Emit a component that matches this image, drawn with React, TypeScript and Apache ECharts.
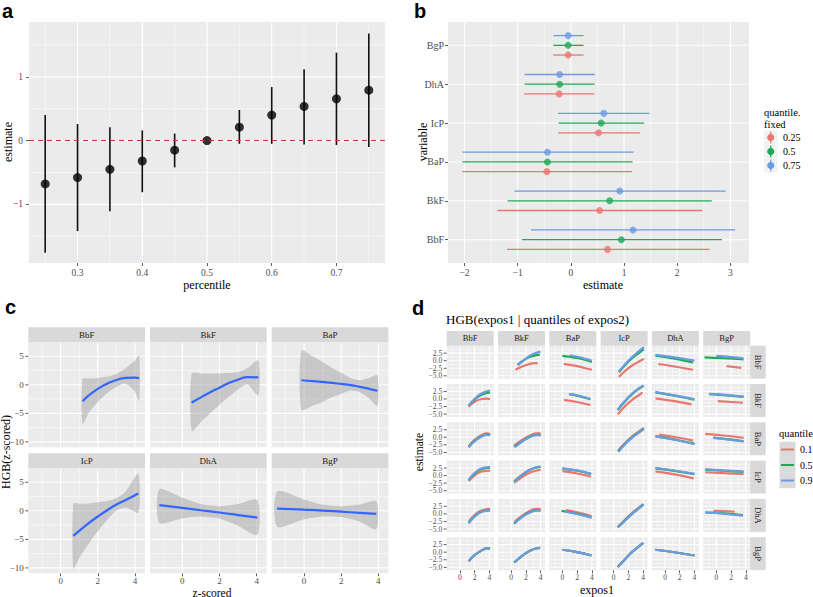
import React, { useEffect, useRef } from 'react';
import * as echarts from 'echarts';

const SERIF = 'Liberation Serif';
const SANS = 'Liberation Sans';

// ---------------- Panel a ----------------
const aPercentile = [0.25, 0.3, 0.35, 0.4, 0.45, 0.5, 0.55, 0.6, 0.65, 0.7, 0.75];
const aEstimate = [-0.68, -0.58, -0.45, -0.32, -0.15, 0.0, 0.21, 0.4, 0.535, 0.655, 0.79];
const aLower = [-1.76, -1.42, -1.11, -0.81, -0.42, 0.0, -0.05, -0.05, -0.06, -0.07, -0.1];
const aUpper = [0.4, 0.26, 0.21, 0.16, 0.11, 0.0, 0.48, 0.84, 1.12, 1.38, 1.68];
const aXTicks = [0.3, 0.4, 0.5, 0.6, 0.7];
const aXMinor = [0.25, 0.35, 0.45, 0.55, 0.65, 0.75];
const aYTicks = [-1, 0, 1];
const aYMinor = [-1.5, -0.5, 0.5, 1.5];

// ---------------- Panel b ----------------
const bVariables = ['BbF', 'BkF', 'BaP', 'IcP', 'DhA', 'BgP'];
const bQuantiles = ['0.25', '0.5', '0.75'];
const bEst25 = [0.69, 0.54, -0.45, 0.52, -0.22, -0.05];
const bLow25 = [-1.2, -1.38, -2.04, -0.24, -0.88, -0.33];
const bHigh25 = [2.61, 2.47, 1.15, 1.3, 0.44, 0.24];
const bEst50 = [0.95, 0.73, -0.44, 0.57, -0.21, -0.05];
const bLow50 = [-0.92, -1.19, -2.04, -0.23, -0.87, -0.33];
const bHigh50 = [2.84, 2.65, 1.16, 1.38, 0.45, 0.24];
const bEst75 = [1.17, 0.92, -0.44, 0.62, -0.21, -0.05];
const bLow75 = [-0.75, -1.06, -2.04, -0.24, -0.87, -0.33];
const bHigh75 = [3.09, 2.91, 1.18, 1.48, 0.45, 0.24];
const bDodge = [-0.25, 0, 0.25];
const bXTicks = [-2, -1, 0, 1, 2, 3];
const bXMinor = [-1.5, -0.5, 0.5, 1.5, 2.5];
const bYTicks = [1, 2, 3, 4, 5, 6];

// ---------------- Panel c ----------------
const cFacets = ['BbF', 'BkF', 'BaP', 'IcP', 'DhA', 'BgP'];
const cBbFx = [1.18, 1.5, 2.0, 2.5, 3.0, 3.5, 4.0, 4.23];
const cBbFfit = [-2.9, -1.9, -0.7, 0.2, 0.85, 1.2, 1.25, 1.15];
const cBbFlo = [-6.9, -5.0, -3.0, -1.5, -0.4, 0.2, -1.2, -2.9];
const cBbFhi = [1.05, 1.1, 1.2, 1.4, 1.9, 2.9, 4.3, 5.2];
const cBkFx = [0.5, 1.0, 1.5, 2.0, 2.5, 3.0, 3.5, 4.09];
const cBkFfit = [-3.1, -2.2, -1.3, -0.5, 0.3, 0.9, 1.35, 1.3];
const cBkFlo = [-8.1, -6.5, -5.0, -3.5, -2.1, -0.8, 0.1, -1.9];
const cBkFhi = [1.95, 2.0, 2.0, 2.0, 2.05, 2.2, 2.9, 4.3];
const cBaPx = [-0.14, 0.5, 1.0, 1.5, 2.0, 2.5, 3.0, 3.5, 3.95];
const cBaPfit = [0.8, 0.65, 0.5, 0.35, 0.15, -0.05, -0.35, -0.7, -1.05];
const cBaPlo = [-4.4, -3.6, -3.0, -2.2, -1.6, -1.0, -1.3, -2.4, -3.7];
const cBaPhi = [6.0, 4.9, 4.0, 3.0, 2.1, 1.2, 0.8, 1.2, 1.65];
const cIcPx = [0.68, 1.0, 1.5, 2.0, 2.5, 3.0, 3.5, 4.18];
const cIcPfit = [-4.4, -3.5, -2.2, -1.0, 0.1, 1.1, 1.9, 3.05];
const cIcPlo = [-10.1, -8.3, -5.8, -3.6, -1.6, 0.0, 0.6, -0.3];
const cIcPhi = [1.2, 1.25, 1.3, 1.5, 1.7, 2.2, 3.4, 6.5];
const cDhAx = [-1.24, 0, 1, 2, 3, 4.04];
const cDhAfit = [1.0, 0.5, 0.1, -0.3, -0.75, -1.2];
const cDhAlo = [-2.1, -1.3, -1.0, -1.4, -2.6, -4.2];
const cDhAhi = [3.8, 2.3, 1.2, 0.8, 1.2, 1.9];
const cBgPx = [-1.45, 0, 1, 2, 3, 3.89];
const cBgPfit = [0.4, 0.2, 0.05, -0.15, -0.35, -0.55];
const cBgPlo = [-2.8, -1.5, -1.0, -1.1, -1.9, -3.2];
const cBgPhi = [3.4, 2.0, 1.1, 0.8, 1.1, 1.65];
const cXTicks = [0, 2, 4];
const cXMinor = [-1, 1, 3];
const cYTicks = [-10, -5, 0, 5];
const cYMinor = [-7.5, -2.5, 2.5];

// ---------------- Panel d ----------------
const dExposures = ['BbF', 'BkF', 'BaP', 'IcP', 'DhA', 'BgP'];
const dQuantiles = ['0.1', '0.5', '0.9'];
const dXTicks = [0, 2, 4];
const dXMinor = [-1, 1, 3];
const dYTicks = [-5, -2.5, 0, 2.5];
const dYMinor = [-3.75, -1.25, 1.25, 3.75];
// rows: expos2 fixed at quantiles; columns: expos1; each cell = [q0.1, q0.5, q0.9] lines of [expos1, estimate]
const dRowBbF = [
  null,
  [[[0.6, -3.0], [1.5, -1.9], [2.5, -1.1], [3.2, -0.8], [3.6, -0.9]],
   [[0.9, -1.3], [2, 0.6], [3, 1.6], [3.9, 2.0]],
   [[0.9, -1.6], [2, 0.7], [3, 2.2], [4.0, 3.0]]],
  [[[0.2, -1.1], [1, -1.4], [2, -1.8], [3, -2.4], [4, -3.0]],
   [[0, 1.6], [1, 1.3], [2, 0.9], [3, 0.3], [4, -0.4]],
   [[1, 1.8], [2, 1.3], [3, 0.7], [4, 0.0]]],
  [[[0.7, -5.4], [1.5, -3.5], [2.5, -1.6], [3.5, -0.2], [4.1, 0.6]],
   [[0.7, -3.8], [1.5, -1.6], [2.5, 0.8], [3.5, 2.7], [4.1, 3.8]],
   [[0.7, -3.6], [1.5, -1.3], [2.5, 1.2], [3.5, 3.3], [4.1, 4.5]]],
  [[[-0.9, -1.1], [1.5, -2.0], [3.8, -3.0]],
   [[-1.3, 1.7], [1.5, 0.6], [3.8, -0.6]],
   [[-1.3, 1.9], [1.5, 1.0], [4.0, 0.0]]],
  [[[1.4, -1.8], [3.4, -2.4]],
   [[-1.6, 1.1], [1, 0.8], [3.7, 0.4]],
   [[0, 1.6], [2, 1.2], [3.7, 0.8]]],
];
const dRowBkF = [
  [[[1.2, -2.6], [2, -0.9], [3, 0.0], [3.6, 0.1], [4.1, -0.1]],
   [[1.2, -2.3], [2, -0.2], [3, 1.5], [4.1, 2.2]],
   [[1.2, -2.2], [2, 0.0], [3, 1.9], [4.1, 2.8]]],
  null,
  [[[0.2, -0.3], [2, -1.0], [3.8, -2.0]],
   [[0.9, 1.6], [2.5, 0.8], [3.8, -0.1]],
   [[0.9, 1.7], [2.5, 0.9], [3.8, 0.0]]],
  [[[0.55, -5.1], [1.5, -2.5], [2.5, -0.3], [3.5, 1.4], [3.9, 2.2]],
   [[0.55, -3.7], [1.5, -0.9], [2.5, 1.6], [3.5, 3.5], [4.05, 4.3]],
   [[0.55, -3.5], [1.5, -0.7], [2.5, 1.8], [3.5, 3.7], [4.05, 4.5]]],
  [[[-1.3, 0.2], [1.5, -0.8], [3.6, -1.8]],
   [[-1.3, 2.2], [1.5, 1.0], [4.0, -0.2]],
   [[-1.3, 2.3], [1.5, 1.1], [4.0, -0.1]]],
  [[[0.2, -0.7], [3.6, -1.25]],
   [[-1.0, 1.6], [1.5, 1.2], [3.7, 0.7]],
   [[-1.0, 1.7], [1.5, 1.3], [3.7, 0.8]]],
];
const dRowBaP = [
  [[[1.2, -3.0], [2, -0.8], [3, 0.8], [3.7, 1.3], [4.1, 1.0]],
   [[1.2, -3.2], [2, -1.2], [3, 0.4], [3.7, 0.9], [4.1, 0.8]],
   [[1.2, -3.3], [2, -1.3], [3, 0.3], [3.7, 0.8], [4.1, 0.7]]],
  [[[0.4, -2.8], [1.5, -0.9], [2.5, 0.5], [3.5, 1.3], [4.0, 1.3]],
   [[0.4, -3.1], [1.5, -1.3], [2.5, 0.1], [3.5, 0.8], [4.0, 0.8]],
   [[0.5, -3.3], [1.5, -1.4], [2.5, 0.0], [3.5, 0.7], [4.0, 0.6]]],
  null,
  [[[0.6, -4.4], [1.5, -2.0], [2.5, 0.3], [3.5, 2.1], [4.1, 3.1]],
   [[0.6, -4.6], [1.5, -2.3], [2.5, 0.0], [3.5, 1.8], [4.1, 2.8]],
   [[0.65, -4.8], [1.5, -2.4], [2.5, -0.1], [3.5, 1.7], [4.1, 2.7]]],
  [[[-0.8, 0.9], [1.5, 0.0], [3.8, -1.1]],
   [[-1.3, 0.4], [1.5, -0.8], [4.0, -2.1]],
   [[-1.3, 0.3], [1.5, -0.9], [4.0, -2.3]]],
  [[[-1.5, 1.1], [1, 0.6], [3.7, -0.2]],
   [[-0.4, -0.1], [1.5, -0.6], [3.7, -1.3]],
   [[-0.4, -0.2], [1.5, -0.7], [3.7, -1.4]]],
];
const dRowIcP = [
  [[[1.2, -1.8], [2, 0.0], [3, 1.4], [4.1, 1.6]],
   [[1.2, -1.6], [2, 0.6], [3, 2.2], [4.1, 2.5]],
   [[1.2, -1.5], [2, 0.8], [3, 2.4], [4.1, 2.8]]],
  [[[0.4, -2.4], [1.5, -0.5], [2.5, 0.9], [3.5, 1.7], [4, 1.9]],
   [[0.4, -1.9], [1.5, 0.2], [2.5, 1.8], [3.5, 2.7], [4, 2.9]],
   [[0.5, -2.0], [1.5, 0.3], [2.5, 1.9], [3.5, 2.8], [4, 3.0]]],
  [[[0, 1.5], [2, 0.7], [3.9, -0.4]],
   [[0, 2.3], [2, 1.6], [3.9, 0.5]],
   [[0, 2.4], [2, 1.7], [3.9, 0.6]]],
  null,
  [[[-1.3, 1.4], [1.5, 0.3], [3.9, -0.9]],
   [[-1.3, 2.4], [1.5, 1.5], [4.0, 0.5]],
   [[-1.3, 2.5], [1.5, 1.6], [4.0, 0.6]]],
  [[[-1.5, 1.1], [1, 0.8], [3.7, 0.5]],
   [[-1.5, 2.0], [1, 1.6], [3.7, 1.2]],
   [[-1.5, 2.1], [1, 1.7], [3.7, 1.3]]],
];
const dRowDhA = [
  [[[1.2, -2.7], [2, -0.4], [3, 1.2], [4.1, 1.7]],
   [[1.2, -3.0], [2, -0.8], [3, 0.8], [4.1, 1.2]],
   [[1.2, -3.1], [2, -0.9], [3, 0.7], [4.1, 1.1]]],
  [[[0.45, -2.6], [1.5, -0.6], [2.5, 0.9], [3.5, 1.7], [4, 1.7]],
   [[0.4, -3.2], [1.5, -1.0], [2.5, 0.5], [3.5, 1.2], [4, 1.2]],
   [[0.5, -3.0], [1.5, -1.0], [2.5, 0.4], [3.5, 1.1], [4, 1.1]]],
  [[[0.5, 1.25], [2, 0.5], [3.95, -0.7]],
   [[-0.1, 1.0], [2, 0.1], [3.95, -1.2]],
   [[0.3, 0.7], [2, 0.0], [3.95, -1.25]]],
  [[[0.6, -4.2], [1.5, -2.0], [2.5, 0.3], [3.5, 2.2], [4, 3.2]],
   [[0.55, -4.4], [1.5, -2.2], [2.5, 0.1], [3.5, 2.1], [4.05, 3.1]],
   [[0.55, -4.5], [1.5, -2.3], [2.5, 0.0], [3.5, 2.0], [4.05, 3.1]]],
  null,
  [[[-0.4, 1.0], [1, 0.9], [2.5, 0.7]],
   [[-1.5, 0.45], [1, 0.2], [3.6, -0.4]],
   [[-1.5, 0.4], [1, 0.1], [3.6, -0.6]]],
];
const dRowBgP = [
  [[[1.2, -3.0], [2, -1.0], [3, 0.6], [3.7, 1.3], [4.1, 1.2]],
   [[1.2, -3.0], [2, -1.0], [3, 0.6], [3.7, 1.3], [4.1, 1.2]],
   [[1.2, -3.0], [2, -1.0], [3, 0.6], [3.7, 1.3], [4.0, 1.2]]],
  [[[0.45, -3.4], [1.5, -1.2], [2.5, 0.4], [3.5, 1.3], [3.95, 1.4]],
   [[0.4, -3.4], [1.5, -1.2], [2.5, 0.4], [3.5, 1.3], [3.95, 1.4]],
   [[0.5, -3.3], [1.5, -1.2], [2.5, 0.4], [3.5, 1.3], [3.9, 1.4]]],
  [[[0, 0.8], [2, 0.0], [3.95, -1.1]],
   [[0, 0.8], [2, 0.0], [3.95, -1.1]],
   [[0, 0.8], [2, 0.0], [3.95, -1.1]]],
  [[[0.55, -4.9], [1.5, -2.4], [2.5, 0.1], [3.5, 2.1], [4.0, 3.1]],
   [[0.55, -4.9], [1.5, -2.4], [2.5, 0.1], [3.5, 2.1], [4.0, 3.1]],
   [[0.55, -4.9], [1.5, -2.4], [2.5, 0.1], [3.5, 2.1], [4.0, 3.1]]],
  [[[-1.3, 0.8], [1.5, -0.1], [4.0, -1.1]],
   [[-1.3, 0.8], [1.5, -0.1], [4.0, -1.1]],
   [[-1.3, 0.8], [1.5, -0.1], [4.0, -1.1]]],
  null,
];

const Q_COLORS = ['#E9776F', '#1DAA57', '#6B9BE0'];
const PANEL_BG = '#EBEBEB';
const STRIP_BG = '#D9D9D9';

const minusFmt = (v: number, digits?: number) => {
  const s = digits === undefined ? String(Math.abs(v)) : Math.abs(v).toFixed(digits);
  return v < 0 ? '\u2212' + s : s;
};

function makeGrid(left: number, top: number, width: number, height: number) {
  return {
    left, top, width, height, show: true, backgroundColor: PANEL_BG, borderWidth: 0,
    containLabel: false, outerBoundsMode: 'none',
  };
}

function makeAxis(dim: 'x' | 'y', gi: number, min: number, max: number, ticks: number[], showTicks: boolean, showLabels: boolean, fontSize: number, margin: number, fmt: (v: number) => string) {
  return {
    type: 'value', gridIndex: gi, min, max,
    position: dim === 'x' ? 'bottom' : 'left',
    offset: 0,
    axisLine: { show: false, onZero: false },
    splitLine: { show: false },
    minorSplitLine: { show: false },
    axisTick: { show: showTicks, length: 3, interval: 0, customValues: ticks, lineStyle: { color: '#333333', width: 0.8 } },
    axisLabel: {
      show: showLabels, customValues: ticks, fontFamily: SERIF, fontSize, color: '#4D4D4D', margin, interval: 0,
      hideOverlap: false, showMinLabel: true, showMaxLabel: true,
      formatter: (v: number) => fmt(v),
    },
  };
}

function gridLines(gi: number, xMajor: number[], xMinor: number[], yMajor: number[], yMinor: number[], xMid: number, yMid: number) {
  const data: number[][] = [];
  xMinor.forEach((v) => data.push([v, yMid, 1]));
  yMinor.forEach((v) => data.push([xMid, v, 3]));
  xMajor.forEach((v) => data.push([v, yMid, 0]));
  yMajor.forEach((v) => data.push([xMid, v, 2]));
  return {
    type: 'custom', xAxisIndex: gi, yAxisIndex: gi, silent: true, z: 1, clip: false,
    encode: { x: 0, y: 1 },
    data,
    renderItem: (params: any, api: any) => {
      const cs = params.coordSys;
      const kind = api.value(2);
      const p = api.coord([api.value(0), api.value(1)]);
      const style = { stroke: '#FFFFFF', lineWidth: kind % 2 === 0 ? 1.1 : 0.5, fill: null };
      if (kind < 2) return { type: 'line', shape: { x1: p[0], y1: cs.y, x2: p[0], y2: cs.y + cs.height }, style };
      return { type: 'line', shape: { x1: cs.x, y1: p[1], x2: cs.x + cs.width, y2: p[1] }, style };
    },
  };
}

function txt(x: number, y: number, text: string, size: number, o: any = {}) {
  return {
    type: 'text', x, y, rotation: o.rot || 0, z: 100, silent: true,
    style: {
      text, fontSize: size, fontFamily: o.family || SERIF, fontWeight: o.weight || 'normal',
      fill: o.color || '#000000', align: o.align || 'center', verticalAlign: o.va || 'middle',
    },
  };
}

function rect(x: number, y: number, w: number, h: number, fill: string) {
  return { type: 'rect', shape: { x, y, width: w, height: h }, style: { fill }, z: 50, silent: true };
}

// facet y-axis labels: the vertical position comes from the axis scale (convertToPixel), the edge from the panel layout
type YLabelSpec = { gi: number; edge: number; xAt: number; ticks: number[]; fmt: (v: number) => string; size: number };

function buildOption() {
  const grids: any[] = [];
  const xAxes: any[] = [];
  const yAxes: any[] = [];
  const series: any[] = [];
  const g: any[] = [];
  const ySpecs: YLabelSpec[] = [];

  // ----- Panel a (grid 0)
  grids.push(makeGrid(29, 22, 356, 241));
  xAxes.push(makeAxis('x', 0, 0.225, 0.775, aXTicks, true, true, 9.5, 5, (v) => v.toFixed(1)));
  yAxes.push(makeAxis('y', 0, -1.92, 1.86, aYTicks, true, true, 9.5, 6, (v) => minusFmt(v)));
  series.push(gridLines(0, aXTicks, aXMinor, aYTicks, aYMinor, 0.5, 0));
  series.push({
    type: 'line', xAxisIndex: 0, yAxisIndex: 0, data: [], z: 2, silent: true,
    markLine: {
      silent: true, symbol: 'none', animation: false,
      label: { show: false },
      lineStyle: { color: '#C0392B', type: [5, 4], width: 1 },
      data: [{ yAxis: 0 }],
    },
  });
  series.push({
    type: 'custom', xAxisIndex: 0, yAxisIndex: 0, z: 3, silent: true,
    encode: { x: 0, y: [1, 2] },
    data: aPercentile.map((p, i) => [p, aLower[i], aUpper[i]]),
    renderItem: (params: any, api: any) => {
      const p1 = api.coord([api.value(0), api.value(1)]);
      const p2 = api.coord([api.value(0), api.value(2)]);
      return { type: 'line', shape: { x1: p1[0], y1: p1[1], x2: p2[0], y2: p2[1] }, style: { stroke: '#111111', lineWidth: 1.6 } };
    },
  });
  series.push({
    type: 'scatter', xAxisIndex: 0, yAxisIndex: 0, z: 4, symbolSize: 9, silent: true,
    itemStyle: { color: '#000000' },
    data: aPercentile.map((p, i) => [p, aEstimate[i]]),
  });

  // ----- Panel b (grid 1)
  grids.push(makeGrid(448, 22, 301, 241));
  xAxes.push(makeAxis('x', 1, -2.31, 3.35, bXTicks, true, true, 9.5, 5, (v) => minusFmt(v)));
  yAxes.push(makeAxis('y', 1, 0.4, 6.6, bYTicks, true, true, 10, 4, (v) => bVariables[Math.round(v) - 1] || ''));
  series.push(gridLines(1, bXTicks, bXMinor, bYTicks, [], 0, 3));
  const bEst = [bEst25, bEst50, bEst75];
  const bLow = [bLow25, bLow50, bLow75];
  const bHigh = [bHigh25, bHigh50, bHigh75];
  bQuantiles.forEach((q, qi) => {
    series.push({
      type: 'custom', name: q, xAxisIndex: 1, yAxisIndex: 1, z: 3, silent: true,
      encode: { x: [0, 1], y: 2 },
      data: bVariables.map((_, i) => [bLow[qi][i], bHigh[qi][i], i + 1 + bDodge[qi]]),
      renderItem: (params: any, api: any) => {
        const p1 = api.coord([api.value(0), api.value(2)]);
        const p2 = api.coord([api.value(1), api.value(2)]);
        return { type: 'line', shape: { x1: p1[0], y1: p1[1], x2: p2[0], y2: p2[1] }, style: { stroke: Q_COLORS[qi], lineWidth: 1.3 } };
      },
    });
    series.push({
      type: 'scatter', name: q, xAxisIndex: 1, yAxisIndex: 1, z: 4, symbolSize: 7, silent: true,
      itemStyle: { color: Q_COLORS[qi] },
      data: bVariables.map((_, i) => [bEst[qi][i], i + 1 + bDodge[qi]]),
    });
  });

  // ----- Panel c (grids 2..7)
  const cX = [cBbFx, cBkFx, cBaPx, cIcPx, cDhAx, cBgPx];
  const cFit = [cBbFfit, cBkFfit, cBaPfit, cIcPfit, cDhAfit, cBgPfit];
  const cLo = [cBbFlo, cBkFlo, cBaPlo, cIcPlo, cDhAlo, cBgPlo];
  const cHi = [cBbFhi, cBkFhi, cBaPhi, cIcPhi, cDhAhi, cBgPhi];
  const cLefts = [28.3, 150, 271.7];
  const cTops = [342.3, 468.3];
  const cXMin = -1.74;
  cFacets.forEach((name, k) => {
    const gi = 2 + k;
    const r = Math.floor(k / 3);
    const c = k % 3;
    grids.push(makeGrid(cLefts[c], cTops[r], 116.7, 105));
    xAxes.push(makeAxis('x', gi, cXMin, 4.54, cXTicks, r === 1, r === 1, 9, 3, (v) => String(v)));
    yAxes.push(makeAxis('y', gi, -10.95, 7.45, cYTicks, false, false, 9, 5, (v) => minusFmt(v)));
    if (c === 0) ySpecs.push({ gi, edge: cLefts[0], xAt: cXMin, ticks: cYTicks, fmt: (v) => minusFmt(v), size: 9 });
    series.push(gridLines(gi, cXTicks, cXMinor, cYTicks, cYMinor, 1, 0));
    const xs = cX[k];
    const lo = cLo[k];
    const hi = cHi[k];
    series.push({
      type: 'custom', xAxisIndex: gi, yAxisIndex: gi, z: 2, silent: true,
      encode: { x: 0, y: 1 },
      data: [[xs[0], cFit[k][0]]],
      renderItem: (params: any, api: any) => {
        const upper = xs.map((x, i) => api.coord([x, hi[i]]));
        const lower = xs.map((x, i) => api.coord([x, lo[i]])).reverse();
        return {
          type: 'polygon',
          shape: { points: upper.concat(lower), smooth: 0.25 },
          style: { fill: 'rgba(150,150,150,0.42)', stroke: null },
        };
      },
    });
    series.push({
      type: 'line', xAxisIndex: gi, yAxisIndex: gi, z: 3, silent: true, smooth: true, showSymbol: false,
      lineStyle: { color: '#3366FF', width: 2.2 },
      itemStyle: { color: '#3366FF' },
      data: xs.map((x, i) => [x, cFit[k][i]]),
    });
    g.push(rect(cLefts[c], cTops[r] - 15, 116.7, 15, STRIP_BG));
    g.push(txt(cLefts[c] + 58.35, cTops[r] - 7.5, name, 9, { color: '#1A1A1A' }));
  });

  // ----- Panel d (grids 8..43)
  const dRows = [dRowBbF, dRowBkF, dRowBaP, dRowIcP, dRowDhA, dRowBgP];
  const dLeft0 = 446.7;
  const dStepX = 51.3;
  const dW = 47;
  const dTop0 = 345.7;
  const dStepY = 38.3;
  const dH = 33;
  const dXMin = -1.78;
  dRows.forEach((row, r) => {
    row.forEach((cell, c) => {
      const gi = 8 + r * 6 + c;
      const left = dLeft0 + c * dStepX;
      const top = dTop0 + r * dStepY;
      grids.push(makeGrid(left, top, dW, dH));
      xAxes.push(makeAxis('x', gi, dXMin, 4.6, dXTicks, r === 5, r === 5, 7.5, 3, (v) => String(v)));
      yAxes.push(makeAxis('y', gi, -5.95, 4.95, dYTicks, false, false, 7.5, 3, (v) => minusFmt(v, 1)));
      if (c === 0) ySpecs.push({ gi, edge: dLeft0, xAt: dXMin, ticks: dYTicks, fmt: (v) => minusFmt(v, 1), size: 7.5 });
      series.push(gridLines(gi, dXTicks, dXMinor, dYTicks, dYMinor, 1, 0));
      if (cell) {
        cell.forEach((line: number[][], qi: number) => {
          series.push({
            type: 'line', xAxisIndex: gi, yAxisIndex: gi, z: 3 + qi, silent: true, smooth: true, showSymbol: false,
            lineStyle: { color: Q_COLORS[qi], width: 2.2 },
            itemStyle: { color: Q_COLORS[qi] },
            data: line,
          });
        });
      }
    });
  });

  dExposures.forEach((name, c) => {
    const left = dLeft0 + c * dStepX;
    g.push(rect(left, 331, dW, 14.7, STRIP_BG));
    g.push(txt(left + dW / 2, 338.4, name, 8.5, { color: '#1A1A1A' }));
  });
  dExposures.forEach((name, r) => {
    const top = dTop0 + r * dStepY;
    g.push(rect(dLeft0 + 5 * dStepX + dW, top, 15.5, dH, STRIP_BG));
    g.push(txt(dLeft0 + 5 * dStepX + dW + 7.75, top + dH / 2, name, 8.5, { color: '#1A1A1A', rot: -Math.PI / 2 }));
  });

  // ----- texts
  g.push(txt(2, 1, 'a', 20, { family: SANS, weight: 'bold', align: 'left', va: 'top' }));
  g.push(txt(414, 1, 'b', 20, { family: SANS, weight: 'bold', align: 'left', va: 'top' }));
  g.push(txt(5, 297, 'c', 20, { family: SANS, weight: 'bold', align: 'left', va: 'top' }));
  g.push(txt(412, 298, 'd', 20, { family: SANS, weight: 'bold', align: 'left', va: 'top' }));

  g.push(txt(207, 285, 'percentile', 12));
  g.push(txt(8, 142, 'estimate', 12, { rot: Math.PI / 2 }));
  g.push(txt(603, 285, 'estimate', 12));
  g.push(txt(423, 142, 'variable', 12, { rot: Math.PI / 2 }));
  g.push(txt(212, 592.5, 'z-scored', 11.5));
  g.push(txt(6, 452, 'HGB(z-scored)', 12, { rot: Math.PI / 2 }));
  g.push(txt(446, 319, 'HGB(expos1 | quantiles of expos2)', 13, { align: 'left' }));
  g.push(txt(597, 590, 'expos1', 12));
  g.push(txt(419, 452, 'estimate', 11.5, { rot: Math.PI / 2 }));

  // legend b
  g.push(txt(764, 112.5, 'quantile.', 10.5, { align: 'left' }));
  g.push(txt(764, 124, 'fixed', 10.5, { align: 'left' }));
  const bKeyY = [137.5, 151.5, 165.5];
  bQuantiles.forEach((q, i) => {
    g.push(rect(764, bKeyY[i] - 7, 13.5, 14, '#F2F2F2'));
    g.push({ type: 'line', z: 60, silent: true, shape: { x1: 770.75, y1: bKeyY[i] - 6, x2: 770.75, y2: bKeyY[i] + 6 }, style: { stroke: Q_COLORS[i], lineWidth: 1.2 } });
    g.push({ type: 'circle', z: 61, silent: true, shape: { cx: 770.75, cy: bKeyY[i], r: 3.6 }, style: { fill: Q_COLORS[i] } });
    g.push(txt(783, bKeyY[i], q, 10, { align: 'left' }));
  });

  // legend d
  g.push(txt(779, 433, 'quantile', 10.5, { align: 'left' }));
  const dKeyY = [449.5, 465, 480.5];
  dQuantiles.forEach((q, i) => {
    g.push(rect(779.5, dKeyY[i] - 7.75, 16, 15.5, '#DADADA'));
    g.push({ type: 'line', z: 60, silent: true, shape: { x1: 781, y1: dKeyY[i], x2: 794, y2: dKeyY[i] }, style: { stroke: Q_COLORS[i], lineWidth: 2 } });
    g.push(txt(800, dKeyY[i], q, 10, { align: 'left' }));
  });

  const option = {
    animation: false,
    backgroundColor: '#FFFFFF',
    textStyle: { fontFamily: SERIF },
    grid: grids,
    xAxis: xAxes,
    yAxis: yAxes,
    series,
  };
  return { option, graphics: g, ySpecs };
}

export default function App() {
  const ref = useRef<HTMLDivElement>(null);
  useEffect(() => {
    if (!ref.current) return;
    const chart = echarts.init(ref.current, null, { renderer: 'svg' });
    const { option, graphics, ySpecs } = buildOption();
    chart.setOption(option as any);
    const extra: any[] = [];
    ySpecs.forEach((spec) => {
      spec.ticks.forEach((v) => {
        const p = chart.convertToPixel({ gridIndex: spec.gi } as any, [spec.xAt, v]) as number[];
        if (!p) return;
        const py = p[1];
        extra.push({
          type: 'line', z: 90, silent: true,
          shape: { x1: spec.edge - 3, y1: py, x2: spec.edge, y2: py },
          style: { stroke: '#333333', lineWidth: 0.8 },
        });
        extra.push(txt(spec.edge - 4.5, py, spec.fmt(v), spec.size, { align: 'right', color: '#4D4D4D' }));
      });
    });
    chart.setOption({ graphic: { elements: graphics.concat(extra) } } as any);
    return () => chart.dispose();
  }, []);
  return (
    <div
      ref={ref}
      style={{ position: 'fixed', left: 0, top: 0, width: 813, height: 597, background: '#FFFFFF' }}
    />
  );
}
